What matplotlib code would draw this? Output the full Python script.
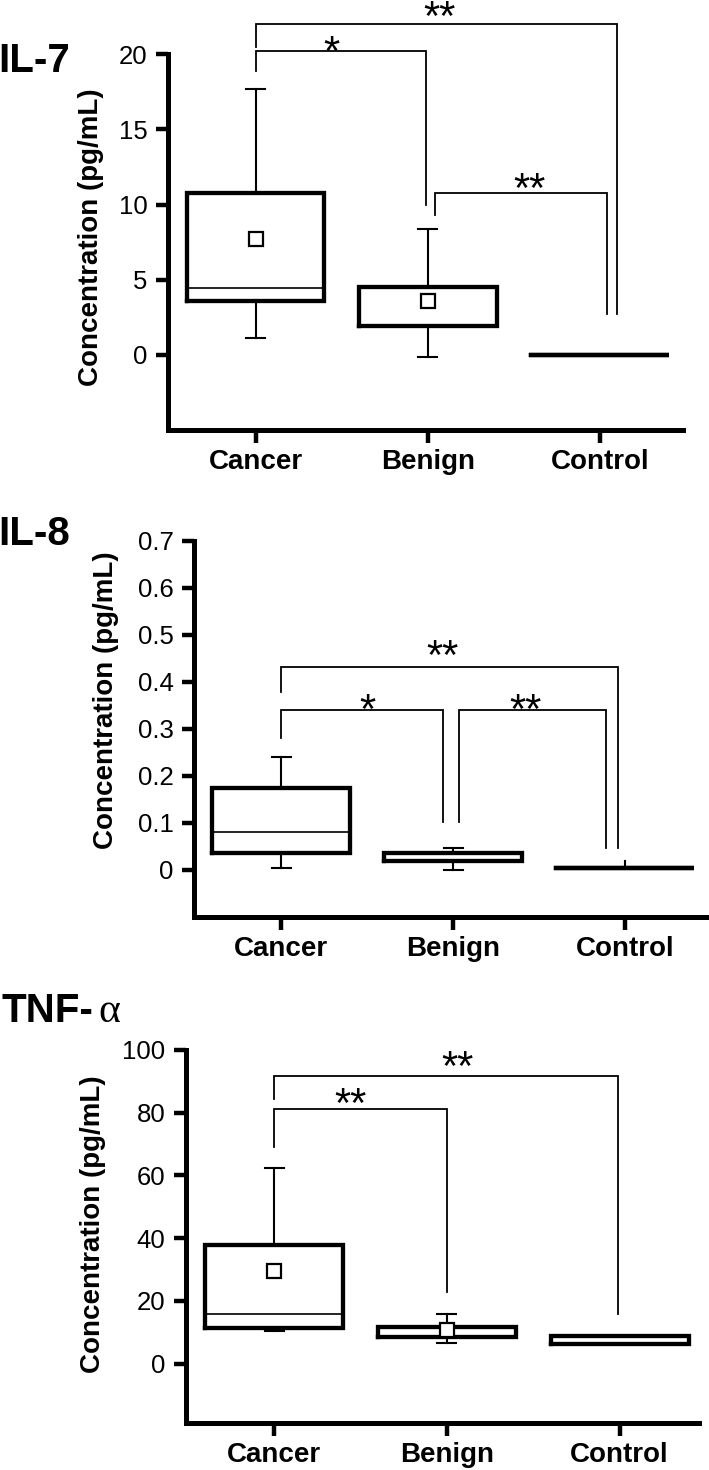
import matplotlib
matplotlib.use('Agg')
import matplotlib.pyplot as plt

plt.rcParams['font.family'] = ['Liberation Sans', 'DejaVu Sans']

W, H = 709, 1470

groups = ['Cancer', 'Benign', 'Control']

# IL-7 box statistics (pg/mL)
il7_whislo = [1.1, -0.15, 0.0]
il7_q1 = [3.6, 1.9, 0.0]
il7_med = [4.45, 1.9, 0.0]
il7_q3 = [10.8, 4.5, 0.0]
il7_whishi = [17.7, 8.4, 0.0]
il7_mean = [7.7, 3.6]
il7_yticks = [0, 5, 10, 15, 20]
# (x left, x right, bar height, left leg end, right leg end, label, label x, label y)
il7_sig = [(0, 0.99, 20.2, 18.9, 10.0, '*', 0.44, 20.85),
           (0, 2.10, 22.0, 20.5, 2.7, '**', 1.07, 23.2),
           (1.04, 2.04, 10.8, 9.3, 2.7, '**', 1.59, 11.75)]

# IL-8
il8_whislo = [0.0035, 0.0, 0.0035]
il8_q1 = [0.035, 0.019, 0.0035]
il8_med = [0.080, 0.035, 0.0035]
il8_q3 = [0.174, 0.035, 0.0035]
il8_whishi = [0.24, 0.047, 0.018]
il8_mean = []
il8_yticks = [0, 0.1, 0.2, 0.3, 0.4, 0.5, 0.6, 0.7]
il8_sig = [(0, 1.955, 0.431, 0.379, 0.046, '**', 0.94, 0.478),
           (0, 0.943, 0.340, 0.28, 0.103, '*', 0.50, 0.364),
           (1.035, 1.89, 0.340, 0.103, 0.046, '**', 1.42, 0.364)]

# TNF-alpha
tnf_whislo = [10.4, 6.6, 6.25]
tnf_q1 = [11.5, 8.4, 6.25]
tnf_med = [15.9, 8.4, 8.9]
tnf_q3 = [37.8, 11.8, 8.9]
tnf_whishi = [62.5, 15.9, 8.9]
tnf_mean = [29.6, 10.6]
tnf_yticks = [0, 20, 40, 60, 80, 100]
tnf_sig = [(0, 1.99, 91.6, 84.4, 15.9, '**', 1.06, 98.1),
           (0, 1.0, 81.1, 69.1, 23.0, '**', 0.44, 86.1)]

fig = plt.figure(figsize=(W / 100, H / 100), dpi=100)

STAR_SIZE = 30


def px_axes(left, right, top, bottom):
    return fig.add_axes([left / W, 1 - bottom / H, (right - left) / W, (bottom - top) / H])


def draw_panel(ax, whislo, q1, med, q3, whishi, means, yticks, sigs, xlim, ylim, capw):
    stats = []
    for i in range(len(groups)):
        stats.append(dict(whislo=whislo[i], q1=q1[i], med=med[i], q3=q3[i],
                          whishi=whishi[i], fliers=[]))
    ax.bxp(stats, positions=[0, 1, 2], widths=0.8, capwidths=capw,
           showfliers=False, manage_ticks=False,
           boxprops=dict(color='black', linewidth=3.1, solid_joinstyle='miter'),
           medianprops=dict(color='black', linewidth=1.2),
           whiskerprops=dict(color='black', linewidth=1.5),
           capprops=dict(color='black', linewidth=1.5))
    if means:
        ax.plot(range(len(means)), means, 's', ms=9.5, mfc='white', mec='black',
                mew=1.6, zorder=4, clip_on=False)
    for x1, x2, yb, y1, y2, lab, lx, ly in sigs:
        ax.plot([x1, x1, x2, x2], [y1, yb, yb, y2], color='black', lw=1.3,
                clip_on=False, solid_joinstyle='miter')
        ax.annotate(lab, xy=(lx, ly), xytext=(0, -0.57 * STAR_SIZE),
                    textcoords='offset points', ha='center', va='baseline',
                    fontsize=STAR_SIZE, annotation_clip=False)
    ax.set_xlim(*xlim)
    ax.set_ylim(*ylim)
    ax.set_xticks([0, 1, 2], labels=groups, fontweight='bold', fontsize=20)
    ax.set_yticks(yticks, labels=[f'{v:g}' for v in yticks], fontsize=18.5)
    for s in ['top', 'right']:
        ax.spines[s].set_visible(False)
    for s in ['left', 'bottom']:
        ax.spines[s].set_linewidth(3.6)
    ax.tick_params(axis='both', length=9, width=3.2, color='black')
    ax.tick_params(axis='y', pad=6)
    ax.tick_params(axis='x', pad=4.5)
    ax.patch.set_alpha(0)


ax1 = px_axes(168.2, 682.8, 54.3, 430)
draw_panel(ax1, il7_whislo, il7_q1, il7_med, il7_q3, il7_whishi, il7_mean,
           il7_yticks, il7_sig, (-0.507, 2.48), (-5, 20), 0.11)

ax2 = px_axes(194.4, 711.3, 540.7, 917)
draw_panel(ax2, il8_whislo, il8_q1, il8_med, il8_q3, il8_whishi, il8_mean,
           il8_yticks, il8_sig, (-0.505, 2.5), (-0.1, 0.7), [0.11, 0.11, 0.0])

ax3 = px_axes(186.3, 698.6, 1049.8, 1423.4)
draw_panel(ax3, tnf_whislo, tnf_q1, tnf_med, tnf_q3, tnf_whishi, tnf_mean,
           tnf_yticks, tnf_sig, (-0.51, 2.458), (-19, 100), 0.11)

# y labels and panel titles
ylab = 'Concentration (pg/mL)'
for xc, yc in [(91, 237), (106, 700), (93, 1224)]:
    fig.text(xc / W, 1 - yc / H, ylab, rotation=90, ha='center', va='center',
             fontsize=20, fontweight='bold')

fig.text(-2 / W, 1 - 72 / H, 'IL-7', fontsize=29, fontweight='bold', va='baseline')
fig.text(-2 / W, 1 - 545 / H, 'IL-8', fontsize=29, fontweight='bold', va='baseline')
fig.text(1 / W, 1 - 1022 / H, 'TNF-', fontsize=29, fontweight='bold', va='baseline')
fig.text(98 / W, 1 - 1022 / H, 'α', fontsize=30, family='Liberation Serif', va='baseline')

fig.savefig('out.png', dpi=100)
